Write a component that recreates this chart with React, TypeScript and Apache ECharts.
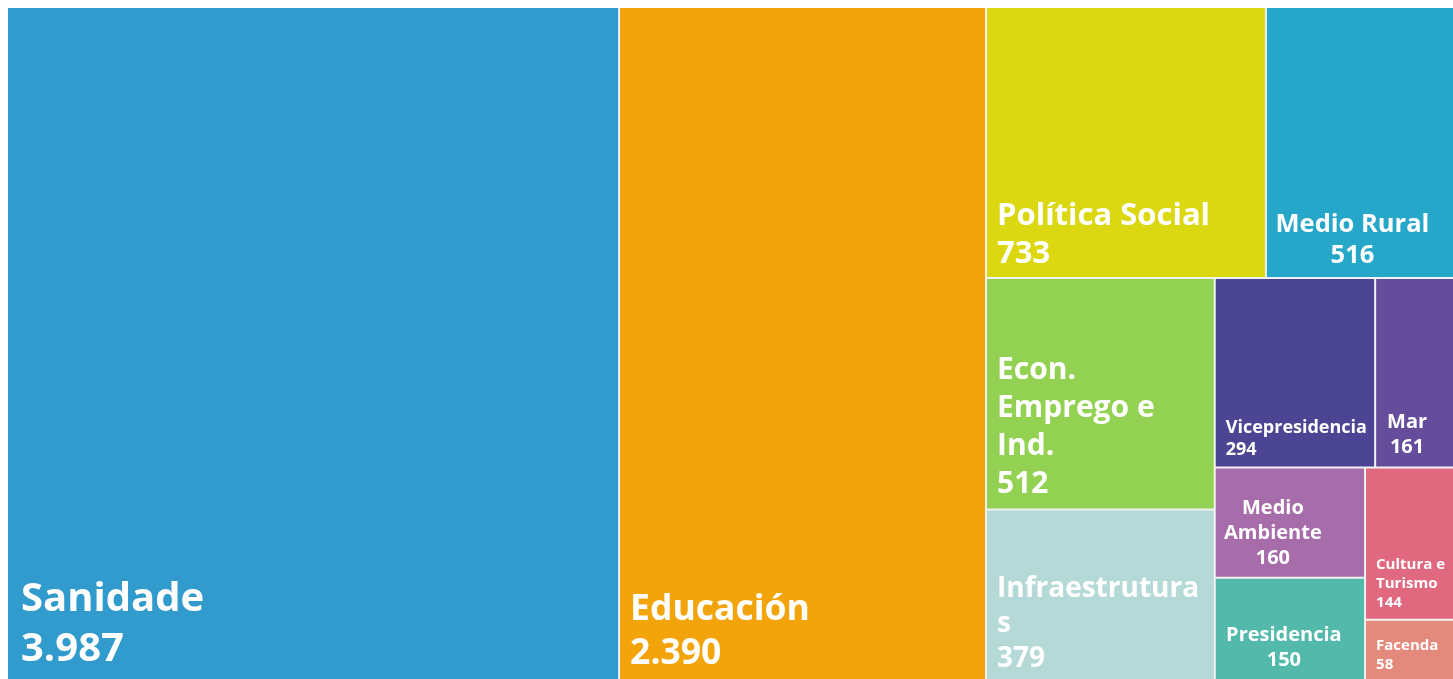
import React, { useEffect, useRef } from 'react';
import * as echarts from 'echarts';

const categories = [
  'Sanidade',
  'Educación',
  'Política Social',
  'Medio Rural',
  'Econ. Emprego e Ind.',
  'Infraestruturas',
  'Vicepresidencia',
  'Mar',
  'Medio Ambiente',
  'Presidencia',
  'Cultura e Turismo',
  'Facenda',
];
const values = [3987, 2390, 733, 516, 512, 379, 294, 161, 160, 150, 144, 58];
const colors = [
  '#319bcd', '#f2a40a', '#dbd811', '#26a6c8', '#93d152', '#b4d9d7',
  '#4b4593', '#654d9b', '#a66daa', '#52b9ab', '#e0687f', '#e38a7c',
];

// label display (line breaks as in the reference picture)
const wrappedNames: Record<string, string> = {
  'Econ. Emprego e Ind.': 'Econ.\nEmprego e\nInd.',
  Infraestruturas: 'Infraestrutura\ns',
  'Medio Ambiente': 'Medio\nAmbiente',
  'Cultura e Turismo': 'Cultura e\nTurismo',
};
const labelSizes = [40, 35.5, 31, 25.5, 30, 28, 18, 20, 20, 20, 15, 15];
const labelLineHeights = [50, 44, 38, 31, 38, 35, 22, 25, 25, 25, 19, 19];
const labelBottomPad = [10, 8, 7, 8, 8, 7, 8, 8.5, 8, 9, 8, 8];
const labelLeftPad = [13, 10, 10, 0, 10, 10, 10, 0, 0, 0, 10, 10];
const labelCentered = [false, false, false, true, false, false, false, true, true, true, false, false];
const labelCenterShift = [0, 0, 0, -12, 0, 0, 0, -12, -17, -6, 0, 0];

function fmt(v: number): string {
  return String(v).replace(/\B(?=(\d{3})+(?!\d))/g, '.');
}

export default function App() {
  const ref = useRef<HTMLDivElement>(null);
  useEffect(() => {
    if (!ref.current) return;
    const chart = echarts.init(ref.current, undefined, { renderer: 'svg' });
    chart.setOption({
      animation: false,
      series: [
        {
          type: 'treemap',
          left: 0,
          top: 0,
          width: '100%',
          height: '100%',
          squareRatio: 1.15,
          roam: false,
          nodeClick: false,
          sort: 'desc',
          breadcrumb: { show: false },
          itemStyle: { borderWidth: 0, gapWidth: 2, borderColor: '#f2f2f2' },
          emphasis: { disabled: true },
          label: {
            show: true,
            color: '#fff',
            fontFamily: 'Open Sans',
            fontWeight: 'bold',
            overflow: 'none',
            distance: 0,
            formatter: (p: any) => (wrappedNames[p.name] ?? p.name) + '\n' + fmt(p.value),
          },
          data: categories.map((name, i) => ({
            name,
            value: values[i],
            itemStyle: { color: colors[i] },
            label: {
              fontSize: labelSizes[i],
              lineHeight: labelLineHeights[i],
              position: labelCentered[i] ? 'insideBottom' : 'insideBottomLeft',
              align: labelCentered[i] ? 'center' : 'left',
              verticalAlign: 'bottom',
              padding: labelCentered[i]
                ? [0, -2 * labelCenterShift[i], labelBottomPad[i], 0]
                : [0, 10, labelBottomPad[i], labelLeftPad[i]],
            },
          })),
        },
      ],
    });
    return () => chart.dispose();
  }, []);
  return (
    <div
      ref={ref}
      style={{ position: 'fixed', left: 8, top: 8, width: 1454, height: 672 }}
    />
  );
}
